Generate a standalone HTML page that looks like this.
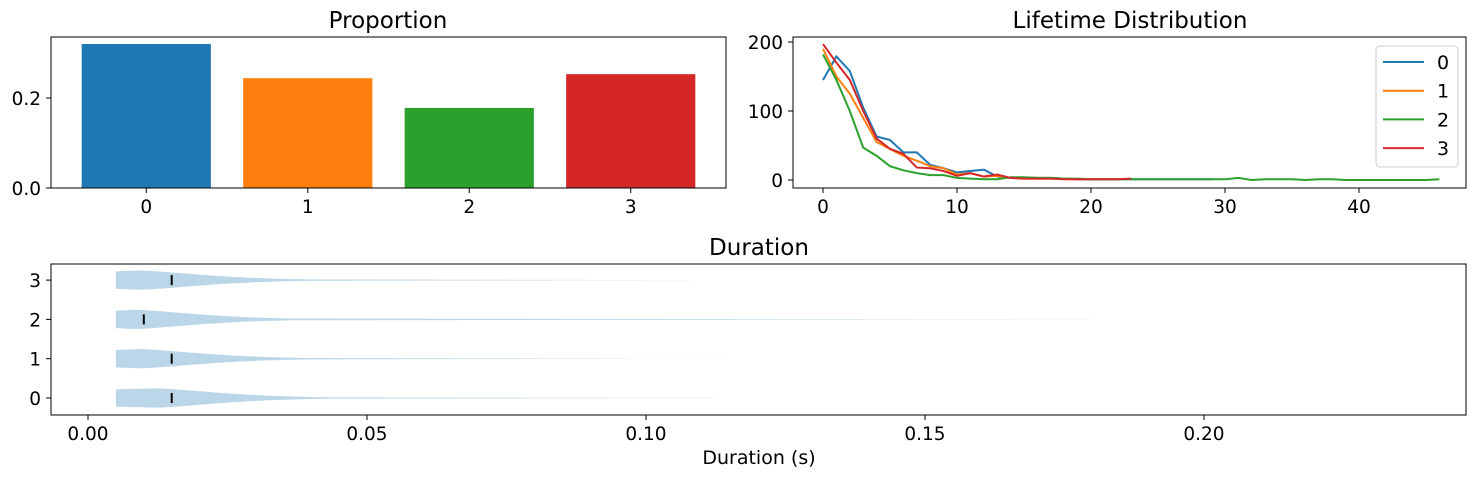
<!DOCTYPE html>
<html><head><meta charset="utf-8"><style>
body{margin:0;background:#fff}
svg{font-family:"DejaVu Sans","Liberation Sans",sans-serif}
</style></head><body>
<svg id="fig" width="1478" height="478" xmlns="http://www.w3.org/2000/svg">
<text x="388" y="28" font-size="23" text-anchor="middle">Proportion</text>
<text x="1130" y="28" font-size="23" text-anchor="middle">Lifetime Distribution</text>
<text x="759" y="255" font-size="23" text-anchor="middle">Duration</text>
<text x="759" y="464" font-size="19" text-anchor="middle">Duration (s)</text>
<g id="g1"></g>
<g id="g2"></g>
<g id="g3"></g>
<g>
<rect x="1376" y="46" width="82" height="121" rx="4" fill="#fff" stroke="#ccc"/>
<g id="leg"></g>
</g>
</svg>
<script>
const propCats=["0","1","2","3"];
const propVals=[0.32,0.244,0.178,0.253];
const propTicks=[0,0.2];
const colors=["#1f77b4","#ff7f0e","#2ca02c","#d62728"];
const life0=[145,179,158,105,63,58,40,40,22,17,11,13,15,5,3,3,3,3,2,1,1,1,1,1,1,1,1,1,1,1];
const life1=[190,150,125,90,55,45,35,28,20,17,8,10,5,6,3,2,2,2,2,1,1,1,1];
const life2=[182,145,100,47,35,20,14,10,7,7,3,2,1,1,4,4,3,3,2,2,1,1,1,1,1,1,1,1,1,1,1,3,0,1,1,1,0,1,1,0,0,0,0,0,0,0,1];
const life3=[197,170,145,100,60,45,38,18,17,13,6,10,5,8,3,2,2,2,1,1,1,1,1,2];
const lifeXTicks=[0,10,20,30,40];
const lifeYTicks=[0,100,200];
const durCats=["0","1","2","3"];
const durMedian=[0.015,0.015,0.01,0.015];
const durMin=[0.005,0.005,0.005,0.005];
const durMax=[0.13,0.12,0.2,0.12];
const durPeak=[0.012,0.009,0.008,0.009];
const durXTicks=[0,0.05,0.1,0.15,0.2];
const NS="http://www.w3.org/2000/svg";
const FS=18.5;
function mk(tag,attrs,parent){const e=document.createElementNS(NS,tag);for(const k in attrs)e.setAttribute(k,attrs[k]);parent.appendChild(e);return e;}
function txt(s,x,y,anchor,parent){const t=mk('text',{x:x,y:y,'font-size':FS,'text-anchor':anchor},parent);t.textContent=s;return t;}
// chart 1
const g1=document.getElementById('g1');
const A={l:51,r:726,t:37,b:188};
const step=(A.r-A.l)/4.18;
const bx=i=>A.l+(i+0.59)*step;
const by=v=>A.b-v*450;
propVals.forEach((v,i)=>{const w=0.8*step;
const r=mk('rect',{x:bx(i)-w/2,y:by(v),width:w,height:A.b-by(v),fill:colors[i]},g1);


mk('line',{x1:bx(i),x2:bx(i),y1:A.b,y2:A.b+5,stroke:'#000'},g1);
const t=txt(propCats[i],bx(i),A.b+25,'middle',g1);

});
propTicks.forEach(v=>{mk('line',{x1:A.l-5,x2:A.l,y1:by(v),y2:by(v),stroke:'#000'},g1);
const t=txt(v.toFixed(1),A.l-10,by(v)+7,'end',g1);

});
mk('rect',{x:A.l,y:A.t,width:A.r-A.l,height:A.b-A.t,fill:'none',stroke:'#000'},g1);
// chart 2
const g2=document.getElementById('g2');
const B={l:793,r:1466,t:37,b:188};
const lx=v=>823+v*13.4;
const ly=v=>180-v*0.69;
[life0,life1,life2,life3].forEach((s,k)=>{
const p=mk('polyline',{points:s.map((v,i)=>lx(i)+','+ly(v)).join(' '),fill:'none',stroke:colors[k],'stroke-width':2},g2);

});
lifeXTicks.forEach(v=>{mk('line',{x1:lx(v),x2:lx(v),y1:B.b,y2:B.b+5,stroke:'#000'},g2);
const t=txt(String(v),lx(v),B.b+25,'middle',g2);

});
lifeYTicks.forEach(v=>{mk('line',{x1:B.l-5,x2:B.l,y1:ly(v),y2:ly(v),stroke:'#000'},g2);
const t=txt(String(v),B.l-10,ly(v)+7,'end',g2);

});
mk('rect',{x:B.l,y:B.t,width:B.r-B.l,height:B.b-B.t,fill:'none',stroke:'#000'},g2);
const leg=document.getElementById('leg');
colors.forEach((c,i)=>{const y=62+i*28.7;
const l=mk('line',{x1:1383,x2:1424,y1:y,y2:y,stroke:c,'stroke-width':2},leg);


const t=txt(String(i),1437,y+7,'start',leg);
t.setAttribute('font-size','19');

});
// chart 3
const g3=document.getElementById('g3');
const C={l:51,r:1466,t:264,b:415};
const dx=v=>88+v*5580;
const dy=v=>398-v*39.3;
durCats.forEach((c,i)=>{
const x0=durMin[i],x1=durMax[i],pk=durPeak[i];const N=200;const top=[],bot=[];
for(let j=0;j<=N;j++){const x=x0+(x1-x0)*j/N;
let w;if(x<pk)w=0.9+0.1*(x-x0)/(pk-x0);else w=Math.exp(-Math.pow((x-pk)/0.016,1.5));
w=Math.max(w*0.245,0.03*Math.pow(1-j/N,1.5));
top.push(dx(x)+','+(dy(i)-w*39.3));bot.unshift(dx(x)+','+(dy(i)+w*39.3));}
const p=mk('polygon',{points:top.concat(bot).join(' '),fill:'#1f77b4','fill-opacity':0.3},g3);


const m=mk('line',{x1:dx(durMedian[i]),x2:dx(durMedian[i]),y1:dy(i)-5,y2:dy(i)+5,stroke:'#000','stroke-width':2},g3);


mk('line',{x1:C.l-5,x2:C.l,y1:dy(i),y2:dy(i),stroke:'#000'},g3);
const t=txt(c,C.l-10,dy(i)+7,'end',g3);

});
durXTicks.forEach(v=>{mk('line',{x1:dx(v),x2:dx(v),y1:C.b,y2:C.b+5,stroke:'#000'},g3);
const t=txt(v.toFixed(2),dx(v),C.b+25,'middle',g3);

});
mk('rect',{x:C.l,y:C.t,width:C.r-C.l,height:C.b-C.t,fill:'none',stroke:'#000'},g3);
</script>
</body></html>
